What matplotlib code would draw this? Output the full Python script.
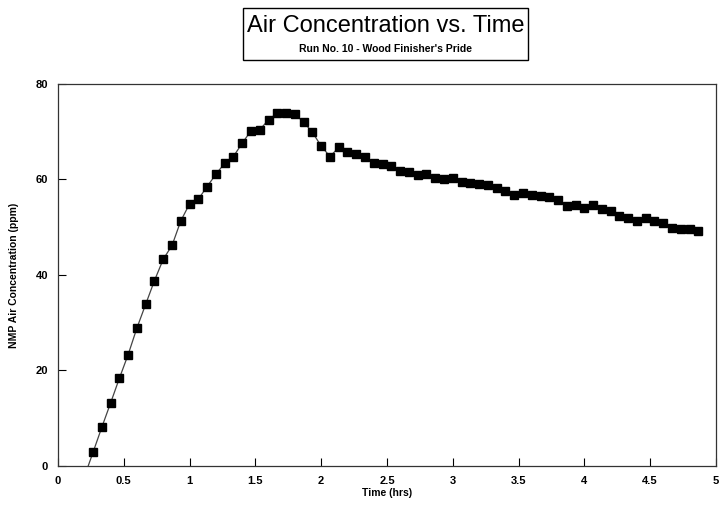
import matplotlib.pyplot as plt
from matplotlib.patches import Rectangle

plt.rcParams['font.family'] = ['Liberation Sans', 'DejaVu Sans']

# Sampling times (hrs), one reading every 4 minutes
time_hrs = [0.200, 0.267, 0.333, 0.400, 0.467, 0.533, 0.600, 0.667, 0.733, 0.800,
            0.867, 0.933, 1.000, 1.067, 1.133, 1.200, 1.267, 1.333, 1.400, 1.467,
            1.533, 1.600, 1.667, 1.733, 1.800, 1.867, 1.933, 2.000, 2.067, 2.133,
            2.200, 2.267, 2.333, 2.400, 2.467, 2.533, 2.600, 2.667, 2.733, 2.800,
            2.867, 2.933, 3.000, 3.067, 3.133, 3.200, 3.267, 3.333, 3.400, 3.467,
            3.533, 3.600, 3.667, 3.733, 3.800, 3.867, 3.933, 4.000, 4.067, 4.133,
            4.200, 4.267, 4.333, 4.400, 4.467, 4.533, 4.600, 4.667, 4.733, 4.800,
            4.867]

# NMP air concentration (ppm)
conc_ppm = [-2.3, 2.9, 8.1, 13.2, 18.4, 23.3, 28.9, 33.9, 38.8, 43.3,
            46.2, 51.3, 54.9, 55.9, 58.5, 61.1, 63.4, 64.8, 67.6, 70.2,
            70.4, 72.5, 73.9, 74.0, 73.7, 72.0, 69.9, 67.0, 64.8, 66.7,
            65.8, 65.3, 64.7, 63.4, 63.2, 62.8, 61.8, 61.5, 60.9, 61.2,
            60.4, 60.2, 60.4, 59.5, 59.3, 59.1, 58.8, 58.2, 57.6, 56.8,
            57.1, 56.8, 56.5, 56.3, 55.7, 54.5, 54.7, 54.1, 54.7, 53.8,
            53.4, 52.4, 51.9, 51.4, 52.0, 51.4, 50.8, 49.8, 49.6, 49.6,
            49.3]

x_ticks = [0, 0.5, 1, 1.5, 2, 2.5, 3, 3.5, 4, 4.5, 5]
x_tick_labels = ['0', '0.5', '1', '1.5', '2', '2.5', '3', '3.5', '4', '4.5', '5']
y_ticks = [0, 20, 40, 60, 80]

fig = plt.figure(figsize=(7.21, 5.07), dpi=100)
ax = fig.add_axes([0.0804, 0.0809, 0.9126, 0.7535])

ax.plot(time_hrs, conc_ppm, color='#444444', linewidth=0.9, zorder=2)
ax.plot(time_hrs, conc_ppm, linestyle='none', marker='s', markersize=6.2,
        color='black', zorder=3)

ax.set_xlim(0, 5)
ax.set_ylim(0, 80)
ax.set_xticks(x_ticks)
ax.set_xticklabels(x_tick_labels)
ax.set_yticks(y_ticks)
ax.tick_params(direction='in', length=6, width=0.8, labelsize=8, pad=7)
for lbl in ax.get_xticklabels() + ax.get_yticklabels():
    lbl.set_fontweight('bold')
for sp in ax.spines.values():
    sp.set_linewidth(0.9)
    sp.set_color('#333333')

ax.set_xlabel('Time (hrs)', fontsize=7.5, fontweight='bold', labelpad=2)
ax.set_ylabel('NMP Air Concentration (ppm)', fontsize=7.5, fontweight='bold', labelpad=12)

# Boxed title
fig.text(0.535, 0.948, 'Air Concentration vs. Time', ha='center', va='center', fontsize=17)
fig.text(0.535, 0.903, "Run No. 10 - Wood Finisher's Pride", ha='center', va='center',
         fontsize=7.5, fontweight='bold')
fig.patches.append(Rectangle((0.337, 0.882), 0.395, 0.103, transform=fig.transFigure,
                             fill=False, edgecolor='black', linewidth=1.0))

fig.savefig('out.png', dpi=100)
